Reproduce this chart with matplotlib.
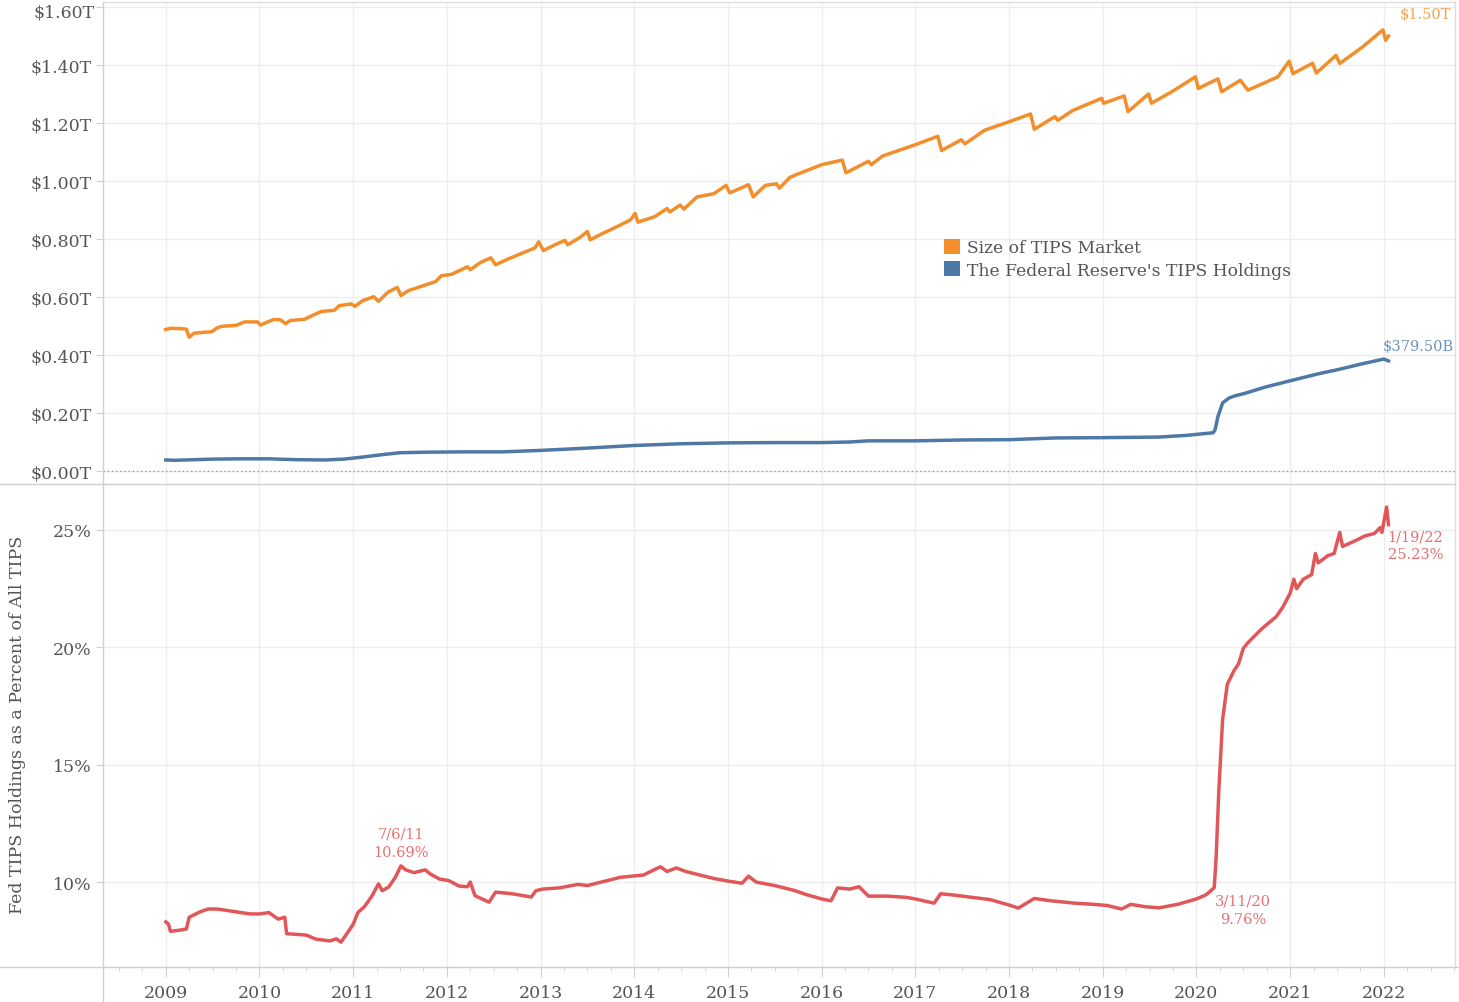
import matplotlib
matplotlib.use("Agg")
import matplotlib.pyplot as plt
from matplotlib.patches import Patch
from matplotlib.lines import Line2D
from matplotlib.ticker import FixedLocator, FuncFormatter

# ---------------- data (x in decimal years) ----------------
market_x = [2009.00, 2009.05, 2009.15, 2009.22, 2009.25, 2009.30, 2009.40, 2009.49, 2009.55, 2009.60,
            2009.75, 2009.84, 2009.98, 2010.01, 2010.08, 2010.15, 2010.22, 2010.28, 2010.33, 2010.48,
            2010.57, 2010.66, 2010.80, 2010.85, 2010.98, 2011.02, 2011.10, 2011.22, 2011.27, 2011.37,
            2011.47, 2011.51, 2011.59, 2011.75, 2011.88, 2011.94, 2012.05, 2012.22, 2012.25, 2012.36,
            2012.47, 2012.52, 2012.64, 2012.81, 2012.94, 2012.98, 2013.03, 2013.16, 2013.26, 2013.29,
            2013.42, 2013.50, 2013.53, 2013.65, 2013.82, 2013.96, 2014.01, 2014.04, 2014.22, 2014.35,
            2014.38, 2014.49, 2014.53, 2014.67, 2014.85, 2014.98, 2015.02, 2015.22, 2015.27, 2015.40,
            2015.52, 2015.55, 2015.66, 2015.74, 2016.00, 2016.22, 2016.26, 2016.50, 2016.53, 2016.65,
            2017.00, 2017.24, 2017.28, 2017.49, 2017.53, 2017.74, 2018.00, 2018.23, 2018.27, 2018.49,
            2018.52, 2018.68, 2018.99, 2019.01, 2019.23, 2019.27, 2019.49, 2019.52, 2019.74, 2019.99,
            2020.02, 2020.23, 2020.27, 2020.47, 2020.55, 2020.87, 2020.99, 2021.03, 2021.24, 2021.28,
            2021.49, 2021.53, 2021.77, 2021.99, 2022.02, 2022.05]
market_T = [0.488, 0.492, 0.491, 0.489, 0.461, 0.475, 0.478, 0.480, 0.494, 0.499,
            0.502, 0.514, 0.514, 0.503, 0.513, 0.522, 0.522, 0.508, 0.519, 0.523,
            0.537, 0.550, 0.554, 0.570, 0.576, 0.568, 0.587, 0.601, 0.585, 0.616,
            0.633, 0.605, 0.622, 0.639, 0.653, 0.673, 0.678, 0.704, 0.694, 0.719,
            0.735, 0.711, 0.729, 0.752, 0.769, 0.790, 0.760, 0.781, 0.795, 0.780,
            0.805, 0.826, 0.797, 0.817, 0.843, 0.866, 0.888, 0.858, 0.877, 0.905,
            0.893, 0.917, 0.903, 0.945, 0.956, 0.985, 0.959, 0.987, 0.945, 0.985,
            0.990, 0.975, 1.012, 1.023, 1.056, 1.072, 1.028, 1.068, 1.056, 1.086,
            1.125, 1.154, 1.105, 1.142, 1.128, 1.175, 1.204, 1.231, 1.178, 1.222,
            1.209, 1.243, 1.285, 1.268, 1.293, 1.239, 1.300, 1.268, 1.308, 1.359,
            1.319, 1.352, 1.308, 1.347, 1.313, 1.359, 1.413, 1.370, 1.406, 1.372,
            1.433, 1.405, 1.461, 1.521, 1.485, 1.500]

fed_x = [2009.00, 2009.10, 2009.30, 2009.50, 2009.80, 2010.10, 2010.40, 2010.70, 2010.90, 2011.10,
         2011.30, 2011.50, 2011.80, 2012.20, 2012.60, 2013.00, 2013.50, 2014.00, 2014.50, 2015.00,
         2015.50, 2016.00, 2016.30, 2016.50, 2017.00, 2017.50, 2018.00, 2018.50, 2019.00, 2019.60,
         2019.90, 2020.18, 2020.20, 2020.23, 2020.28, 2020.35, 2020.41, 2020.52, 2020.73, 2021.00,
         2021.30, 2021.53, 2021.76, 2022.00, 2022.05]
fed_T = [0.038, 0.037, 0.039, 0.041, 0.042, 0.042, 0.039, 0.038, 0.041, 0.048,
         0.056, 0.063, 0.065, 0.066, 0.066, 0.071, 0.079, 0.088, 0.094, 0.097,
         0.098, 0.098, 0.100, 0.104, 0.104, 0.107, 0.108, 0.114, 0.115, 0.117,
         0.123, 0.132, 0.143, 0.188, 0.235, 0.252, 0.259, 0.268, 0.289, 0.311,
         0.335, 0.351, 0.369, 0.386, 0.3795]

pct_x = [2009.00, 2009.03, 2009.05, 2009.15, 2009.22, 2009.25, 2009.36, 2009.45, 2009.55, 2009.70,
         2009.90, 2010.00, 2010.10, 2010.20, 2010.27, 2010.29, 2010.50, 2010.60, 2010.75, 2010.82,
         2010.87, 2010.95, 2011.00, 2011.05, 2011.12, 2011.20, 2011.27, 2011.31, 2011.38, 2011.45,
         2011.51, 2011.56, 2011.65, 2011.77, 2011.82, 2011.92, 2012.02, 2012.13, 2012.22, 2012.25,
         2012.30, 2012.45, 2012.52, 2012.70, 2012.90, 2012.95, 2013.02, 2013.20, 2013.40, 2013.50,
         2013.70, 2013.85, 2014.00, 2014.10, 2014.20, 2014.28, 2014.35, 2014.45, 2014.55, 2014.70,
         2014.85, 2015.00, 2015.15, 2015.22, 2015.30, 2015.50, 2015.70, 2015.85, 2016.00, 2016.10,
         2016.17, 2016.30, 2016.40, 2016.50, 2016.70, 2016.90, 2017.00, 2017.20, 2017.27, 2017.40,
         2017.60, 2017.80, 2018.00, 2018.10, 2018.27, 2018.45, 2018.70, 2018.90, 2019.05, 2019.20,
         2019.30, 2019.45, 2019.60, 2019.80, 2020.00, 2020.10, 2020.15, 2020.19, 2020.21, 2020.24,
         2020.28, 2020.33, 2020.40, 2020.45, 2020.50, 2020.55, 2020.70, 2020.85, 2020.92, 2021.00,
         2021.04, 2021.07, 2021.14, 2021.23, 2021.27, 2021.30, 2021.40, 2021.47, 2021.53, 2021.56,
         2021.70, 2021.80, 2021.90, 2021.96, 2021.98, 2022.03, 2022.05]
pct_val = [8.30, 8.20, 7.90, 7.95, 8.00, 8.50, 8.72, 8.85, 8.85, 8.76,
           8.64, 8.64, 8.70, 8.42, 8.50, 7.80, 7.74, 7.57, 7.49, 7.58,
           7.44, 7.90, 8.20, 8.70, 8.95, 9.40, 9.92, 9.63, 9.79, 10.20,
           10.69, 10.52, 10.40, 10.52, 10.35, 10.13, 10.06, 9.83, 9.80, 10.00,
           9.42, 9.14, 9.57, 9.50, 9.36, 9.63, 9.70, 9.75, 9.90, 9.85,
           10.05, 10.20, 10.26, 10.30, 10.50, 10.65, 10.45, 10.60, 10.45, 10.30,
           10.15, 10.04, 9.95, 10.25, 10.00, 9.85, 9.65, 9.45, 9.28, 9.20,
           9.75, 9.70, 9.80, 9.40, 9.40, 9.35, 9.28, 9.10, 9.50, 9.45,
           9.35, 9.25, 9.02, 8.89, 9.30, 9.20, 9.10, 9.05, 9.00, 8.85,
           9.05, 8.95, 8.90, 9.05, 9.28, 9.45, 9.62, 9.76, 11.00, 13.96,
           16.95, 18.43, 19.00, 19.30, 19.95, 20.20, 20.80, 21.30, 21.70, 22.30,
           22.90, 22.50, 22.90, 23.10, 24.00, 23.60, 23.90, 24.00, 24.90, 24.30,
           24.55, 24.75, 24.85, 25.10, 24.90, 25.98, 25.23]

years = list(range(2009, 2023))
top_ticks = [0.0, 0.2, 0.4, 0.6, 0.8, 1.0, 1.2, 1.4, 1.6]
bottom_ticks = [10, 15, 20, 25]

series_names = ["Size of TIPS Market", "The Federal Reserve's TIPS Holdings"]
annot_peak = ("7/6/11", 2011.51, 10.69)
annot_covid = ("3/11/20", 2020.19, 9.76)
annot_last = ("1/19/22", 2022.05, 25.23)

# ---------------- style ----------------
ORANGE = "#f28e2b"
BLUE = "#4e79a7"
RED = "#e15759"
TXT = "#555555"
GRID = "#ededed"
AXC = "#d0d0d0"
FONT = "DejaVu Serif"
plt.rcParams["font.family"] = FONT

W, H = 1459, 1003
fig = plt.figure(figsize=(W / 100, H / 100), dpi=100)


def fx(px):
    return px / W


def fy(py):
    return 1 - py / H


L, R = 103, 1455
ax1 = fig.add_axes([fx(L), fy(485), fx(R) - fx(L), fy(3) - fy(485)])
ax2 = fig.add_axes([fx(L), fy(968), fx(R) - fx(L), fy(485) - fy(968)])

xlim = (2008.33, 2022.76)
for ax in (ax1, ax2):
    ax.set_xlim(*xlim)
    ax.xaxis.set_major_locator(FixedLocator(years))
    ax.grid(True, color=GRID, lw=1.0)
    ax.set_axisbelow(True)
    for s in ("top", "right"):
        ax.spines[s].set_color("#dddddd")
        ax.spines[s].set_linewidth(1.0)
    ax.spines["left"].set_color(AXC)
    ax.spines["left"].set_linewidth(1.0)
    ax.tick_params(axis="y", length=5, color=AXC, labelcolor=TXT, labelsize=12.5, pad=3)

# top panel
ax1.set_ylim(-0.0448, 1.617)
ax1.yaxis.set_major_locator(FixedLocator(top_ticks))
top_max = top_ticks[-1]
ax1.yaxis.set_major_formatter(FuncFormatter(lambda v, p: "" if abs(v - top_max) < 1e-9 else f"${v:.2f}T"))
# the topmost label sits a little lower so it is not cut at the top edge
ax1.annotate(f"${top_max:.2f}T", xy=(0, top_max), xycoords=ax1.get_yaxis_transform(),
             xytext=(-8, -5), textcoords="offset pixels", ha="right", va="center",
             fontsize=12.5, color=TXT)
ax1.tick_params(axis="x", length=0, labelbottom=False)
ax1.spines["bottom"].set_visible(False)
ax1.axhline(0, color="#9a9a9a", lw=1.0, ls=(0, (1, 2)), zorder=1)
ax1.plot(market_x, market_T, color=ORANGE, lw=2.5, solid_joinstyle="round", zorder=3)
ax1.plot(fed_x, fed_T, color=BLUE, lw=2.5, solid_joinstyle="round", zorder=3)

ax1.annotate(f"${market_T[-1]:.2f}T", xy=(market_x[-1], market_T[-1]), xytext=(11, 22),
             textcoords="offset pixels", ha="left", va="center", fontsize=10.5, color="#f5a04f")
ax1.annotate(f"${fed_T[-1] * 1000:.2f}B", xy=(fed_x[-1], fed_T[-1]), xytext=(-6, 15),
             textcoords="offset pixels", ha="left", va="center", fontsize=10.5, color="#6a93c0")

handles = [Patch(facecolor=ORANGE, edgecolor="none"), Patch(facecolor=BLUE, edgecolor="none")]
leg = fig.legend(handles, series_names, loc="upper left",
                 bbox_to_anchor=(fx(944), fy(240)), bbox_transform=fig.transFigure,
                 frameon=False, fontsize=12.3, handlelength=0.95, handleheight=0.95,
                 handletextpad=0.4, labelspacing=0.3, borderpad=0, borderaxespad=0)
for t in leg.get_texts():
    t.set_color(TXT)

# bottom panel
ax2.set_ylim(6.38, 26.96)
ax2.yaxis.set_major_locator(FixedLocator(bottom_ticks))
ax2.yaxis.set_major_formatter(FuncFormatter(lambda v, p: f"{v:.0f}%"))
ax2.spines["top"].set_visible(False)
ax2.spines["bottom"].set_color(AXC)
ax2.xaxis.set_minor_locator(FixedLocator([y + q for y in range(2008, 2023) for q in (0.25, 0.5, 0.75)]))
ax2.tick_params(axis="x", which="major", length=7, color=AXC, labelcolor=TXT, labelsize=12.5, pad=5)
ax2.tick_params(axis="x", which="minor", length=3, color=AXC)
ax2.plot(pct_x, pct_val, color=RED, lw=2.5, solid_joinstyle="round", zorder=3)

ann_col = "#ea6f71"
ax2.annotate(f"{annot_peak[0]}\n{annot_peak[2]:.2f}%", xy=(annot_peak[1], annot_peak[2]), xytext=(0, 7),
             textcoords="offset pixels", ha="center", va="bottom", fontsize=10.5, color=ann_col,
             linespacing=1.35)
ax2.annotate(f"{annot_covid[0]}\n{annot_covid[2]:.2f}%", xy=(annot_covid[1], annot_covid[2]), xytext=(29, -6),
             textcoords="offset pixels", ha="center", va="top", fontsize=10.5, color=ann_col,
             linespacing=1.35)
ax2.annotate(f"{annot_last[0]}\n{annot_last[2]:.2f}%", xy=(annot_last[1], annot_last[2]), xytext=(27, -5),
             textcoords="offset pixels", ha="center", va="top", fontsize=10.5, color=ann_col,
             linespacing=1.35)

fig.text(fx(18), fy(725), "Fed TIPS Holdings as a Percent of All TIPS", rotation=90,
         ha="center", va="center", fontsize=12.5, color=TXT)

# panel separators extending into the header area
fig.add_artist(Line2D([0, fx(R)], [fy(485), fy(485)], color=AXC, lw=1.0))
fig.add_artist(Line2D([0, 1], [fy(968), fy(968)], color=AXC, lw=1.0))
fig.add_artist(Line2D([fx(L), fx(L)], [0, fy(968)], color=AXC, lw=1.0))

fig.savefig("out.png", dpi=100)
